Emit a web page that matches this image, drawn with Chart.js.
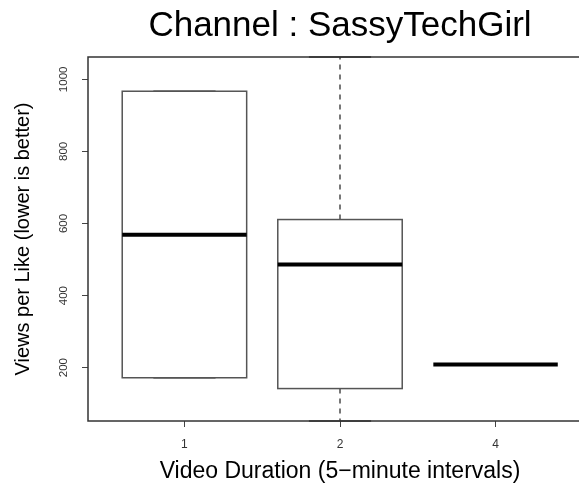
<!DOCTYPE html>
<html>
<head>
<meta charset="utf-8">
<script src="https://cdn.jsdelivr.net/npm/chart.js@4/dist/chart.umd.min.js"></script>
<style>
  html, body { margin: 0; padding: 0; background: #fff; overflow: hidden; }
  #wrap { width: 592px; height: 485px; }
</style>
</head>
<body>
<div id="wrap"><canvas id="box_chart"></canvas></div>
<script>
// group labels and their positions on the x axis
const categories = ['1', '2', '4'];
const positions = [1, 2, 3];
// five-number summaries (views per like)
const whiskerLow = [172, 52, 209];
const q1 = [172, 142, 209];
const medians = [569, 486, 209];
const q3 = [967, 611, 209];
const whiskerHigh = [967, 1062, 209];
// y tick values
const yTicks = [200, 400, 600, 800, 1000];

const boxWidth = 0.8;    // in x units, like R's boxwex
const stapleWidth = 0.4;

// draws the box plot through the chart's scales
const boxPlot = {
    id: 'boxPlot',
    afterDatasetsDraw(chart) {
        const {ctx, chartArea, scales: {x, y}} = chart;
        ctx.save();
        positions.forEach((p, i) => {
            const cx = x.getPixelForValue(p);
            const left = x.getPixelForValue(p - boxWidth / 2);
            const right = x.getPixelForValue(p + boxWidth / 2);
            const sLeft = x.getPixelForValue(p - stapleWidth / 2);
            const sRight = x.getPixelForValue(p + stapleWidth / 2);
            const yLow = y.getPixelForValue(whiskerLow[i]);
            const yQ1 = y.getPixelForValue(q1[i]);
            const yMed = y.getPixelForValue(medians[i]);
            const yQ3 = y.getPixelForValue(q3[i]);
            const yHigh = y.getPixelForValue(whiskerHigh[i]);

            // dashed whiskers
            ctx.strokeStyle = '#777';
            ctx.lineWidth = 2;
            ctx.setLineDash([5, 5]);
            ctx.beginPath();
            if (yHigh < yQ3) { ctx.moveTo(cx, yQ3); ctx.lineTo(cx, yHigh); }
            if (yLow > yQ1) { ctx.moveTo(cx, yQ1); ctx.lineTo(cx, yLow); }
            ctx.stroke();
            ctx.setLineDash([]);

            // staples
            ctx.strokeStyle = '#333';
            ctx.lineWidth = 1.5;
            ctx.beginPath();
            ctx.moveTo(sLeft, yHigh); ctx.lineTo(sRight, yHigh);
            ctx.moveTo(sLeft, yLow); ctx.lineTo(sRight, yLow);
            ctx.stroke();

            // box
            if (yQ1 - yQ3 > 0.5) {
                ctx.strokeStyle = '#555';
                ctx.lineWidth = 1.5;
                ctx.strokeRect(left, yQ3, right - left, yQ1 - yQ3);
            }

            // median
            ctx.strokeStyle = '#000';
            ctx.lineWidth = 4;
            ctx.beginPath();
            ctx.moveTo(left, yMed); ctx.lineTo(right, yMed);
            ctx.stroke();
        });
        // plot frame
        ctx.strokeStyle = '#333';
        ctx.lineWidth = 1.5;
        ctx.strokeRect(chartArea.left, chartArea.top, chartArea.right - chartArea.left, chartArea.bottom - chartArea.top);
        ctx.restore();
    }
};

new Chart(document.getElementById('box_chart'), {
    type: 'scatter',
    data: {datasets: []},
    plugins: [boxPlot],
    options: {
        responsive: true,
        maintainAspectRatio: false,
        animation: false,
        layout: {padding: 0},
        plugins: {
            legend: {display: false},
            tooltip: {enabled: false},
            title: {
                display: true,
                text: 'Channel : SassyTechGirl',
                fullSize: false,
                color: '#000',
                font: {family: 'Liberation Sans', size: 35, weight: 'normal'},
                padding: {top: 5, bottom: 10}
            }
        },
        scales: {
            x: {
                type: 'linear',
                min: 0.38,
                max: 3.62,
                afterBuildTicks: scale => { scale.ticks = positions.map(v => ({value: v})); },
                afterFit: scale => { scale.height = 64; },
                border: {display: false},
                grid: {drawOnChartArea: false, drawTicks: true, tickLength: 6, color: '#444'},
                ticks: {
                    autoSkip: false,
                    maxRotation: 0,
                    color: '#333',
                    font: {family: 'Liberation Sans', size: 12},
                    padding: 10,
                    callback: v => categories[positions.indexOf(v)]
                },
                title: {
                    display: true,
                    text: 'Video Duration (5\u2212minute intervals)',
                    color: '#000',
                    font: {family: 'Liberation Sans', size: 23},
                    padding: {top: 0, bottom: 0}
                }
            },
            y: {
                min: 52,
                max: 1062,
                afterBuildTicks: scale => { scale.ticks = yTicks.map(v => ({value: v})); },
                afterFit: scale => { scale.width = 88; },
                border: {display: false},
                grid: {drawOnChartArea: false, drawTicks: true, tickLength: 6, color: '#444'},
                ticks: {
                    minRotation: 90,
                    maxRotation: 90,
                    crossAlign: 'center',
                    color: '#333',
                    font: {family: 'Liberation Sans', size: 11.5},
                    padding: 5,
                    callback: v => String(v)
                },
                title: {
                    display: true,
                    text: 'Views per Like (lower is better)',
                    color: '#000',
                    font: {family: 'Liberation Sans', size: 20},
                    padding: {top: 11}
                }
            }
        }
    }
});
</script>
</body>
</html>
